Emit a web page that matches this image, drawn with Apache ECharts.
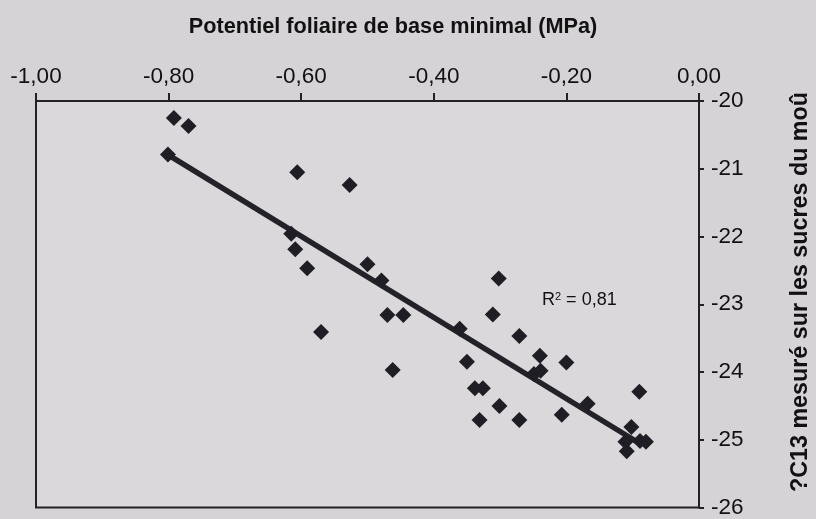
<!DOCTYPE html>
<html><head><meta charset="utf-8">
<script src="https://cdn.jsdelivr.net/npm/echarts@6/dist/echarts.min.js"></script>
<style>html,body{margin:0;padding:0;background:#d6d3d7;}#c{width:816px;height:519px;}</style>
</head><body><div id="c"></div>
<script>
const xValues = [-0.792,-0.770,-0.801,-0.606,-0.527,-0.615,-0.609,-0.591,-0.570,-0.500,-0.479,-0.470,-0.446,-0.462,-0.361,-0.350,-0.338,-0.326,-0.331,-0.302,-0.311,-0.301,-0.271,-0.240,-0.249,-0.239,-0.271,-0.200,-0.207,-0.168,-0.090,-0.102,-0.111,-0.109,-0.089,-0.080];
const yValues = [-20.25,-20.37,-20.79,-21.05,-21.24,-21.96,-22.19,-22.47,-23.41,-22.41,-22.65,-23.16,-23.16,-23.97,-23.36,-23.85,-24.24,-24.24,-24.71,-22.62,-23.15,-24.50,-23.47,-23.76,-24.03,-23.98,-24.71,-23.86,-24.63,-24.47,-24.29,-24.81,-25.03,-25.17,-25.02,-25.03];
const trendX = [-0.800,-0.087];
const trendY = [-20.80,-25.07];
const xTitle = 'Potentiel foliaire de base minimal (MPa)';
const yTitle = '?C13 mesuré sur les sucres du moû';

const points = xValues.map((x,i)=>[x,yValues[i]]);
const trend = trendX.map((x,i)=>[x,trendY[i]]);
const fmt = v => v.toFixed(2).replace('.',',');
const dark = '#222126';
const chart = echarts.init(document.getElementById('c'));
chart.setOption({
  backgroundColor:'#d6d3d7',
  animation:false,
  grid:{left:36,top:101,width:663,height:408,show:true,backgroundColor:'#dbd8dc',borderColor:dark,borderWidth:2},
  xAxis:{type:'value',position:'top',min:-1,max:0,interval:0.2,
    axisLine:{show:true,onZero:false,lineStyle:{color:dark,width:2}},
    axisTick:{show:true,inside:false,length:8,lineStyle:{color:dark,width:2}},
    splitLine:{show:false},
    axisLabel:{margin:13,color:'#111',fontSize:22.5,fontFamily:'Liberation Sans, Arial',formatter:v=>fmt(v)}},
  yAxis:{type:'value',position:'right',min:-26,max:-20,interval:1,
    axisLine:{show:true,onZero:false,lineStyle:{color:dark,width:2}},
    axisTick:{show:true,inside:false,length:5,lineStyle:{color:dark,width:2}},
    splitLine:{show:false},
    axisLabel:{margin:12,color:'#111',fontSize:22.5,fontFamily:'Liberation Sans, Arial',formatter:v=>String(v)}},
  series:[
    {type:'line',data:trend,symbol:'none',lineStyle:{color:'#232228',width:5.5},z:2},
    {type:'scatter',data:points,symbol:'diamond',symbolSize:16,itemStyle:{color:'#1f1e24',opacity:1},z:3}
  ],
  graphic:[
    {type:'text',x:393,y:27,style:{text:xTitle,font:'bold 21.7px "Liberation Sans", Arial',fill:'#111',align:'center',verticalAlign:'middle'}},
    {type:'text',x:542,y:300,style:{text:'{r|R}{s|2}{r| = 0,81}',verticalAlign:'middle',rich:{r:{fontSize:18,fontFamily:'Liberation Sans, Arial',fill:'#111',verticalAlign:'bottom'},s:{fontSize:11,fontFamily:'Liberation Sans, Arial',fill:'#111',verticalAlign:'top',padding:[0,0,6,0]}}}},
    {type:'text',x:801,y:292,rotation:Math.PI/2,style:{text:yTitle,font:'bold 23.3px "Liberation Sans", Arial',fill:'#111',align:'center',verticalAlign:'middle'}}
  ]
});
</script></body></html>
